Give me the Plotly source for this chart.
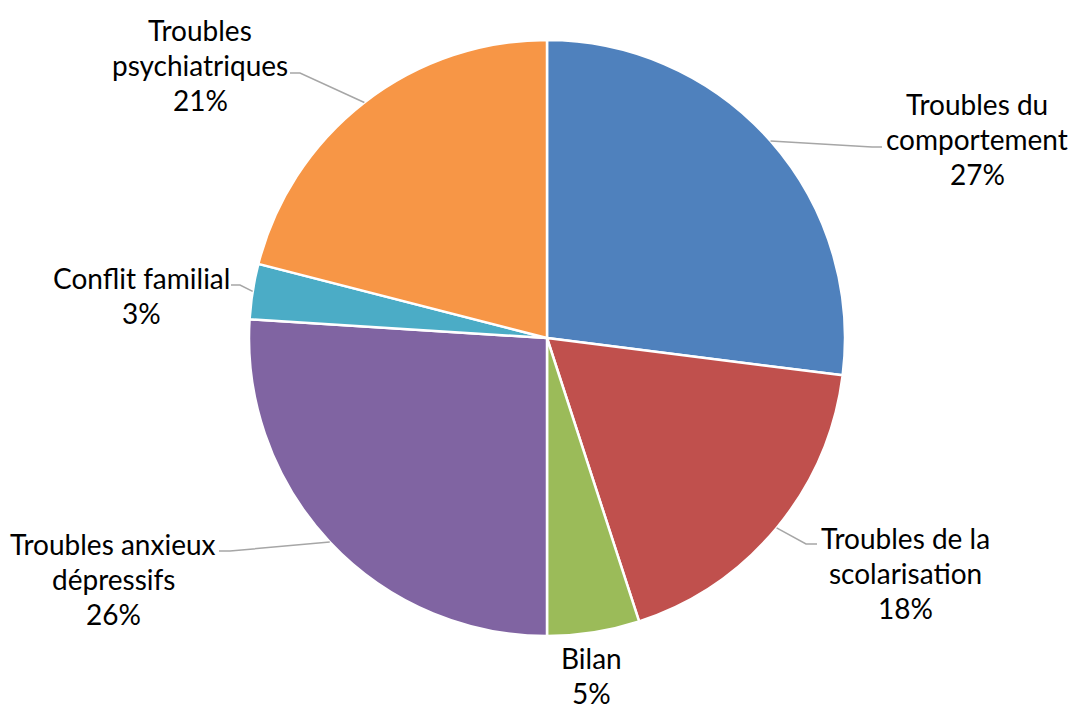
import math
import plotly.graph_objects as go

# ---- data ----
categories = ["Troubles du comportement", "Troubles de la scolarisation", "Bilan",
              "Troubles anxieux dépressifs", "Conflit familial", "Troubles psychiatriques"]
label_lines = [["Troubles du", "comportement"], ["Troubles de la", "scolarisation"], ["Bilan"],
               ["Troubles anxieux", "dépressifs"], ["Conflit familial"], ["Troubles", "psychiatriques"]]
values = [27, 18, 5, 26, 3, 21]
colors = ["#4F81BD", "#C0504D", "#9BBB59", "#8064A2", "#4BACC6", "#F79646"]

# ---- layout parameters (pixels) ----
W, H = 1072, 704
CX, CY, R = 547, 338, 298
FONT = "Lato"
FS = 28
LINE_H = 35
# label centre x, y of first line
label_pos = [(977, 104), (905, 538), (591, 658), (113, 544), (141, 278), (200, 30)]
# leader line: elbow point and end point (None = no leader)
leader = [((872, 147), (882, 147)), ((806, 544), (817, 544)), None,
          ((230, 551), (219, 551)), ((240, 285), (231, 285)), ((300, 73), (290, 73))]


def px(x):
    return x / W


def py(y):
    return 1 - y / H


fig = go.Figure(go.Pie(
    labels=categories, values=values, sort=False, direction="clockwise", rotation=0,
    marker=dict(colors=colors, line=dict(color="white", width=2.5)),
    textinfo="none", hoverinfo="label+percent", showlegend=False,
    domain=dict(x=[px(CX - R), px(CX + R)], y=[py(CY + R), py(CY - R)]),
))

total = sum(values)
annotations = []
shapes = []
cum = 0
for i, v in enumerate(values):
    mid = (cum + v / 2) / total * 2 * math.pi
    cum += v
    ex = CX + R * math.sin(mid)
    ey = CY - R * math.cos(mid)
    pct = f"{round(v / total * 100)}%"
    lines = label_lines[i] + [pct]
    lx, ly = label_pos[i]
    for k, t in enumerate(lines):
        annotations.append(dict(
            x=px(lx), y=py(ly + k * LINE_H), xref="paper", yref="paper",
            text=t, showarrow=False, xanchor="center", yanchor="middle",
            font=dict(family=FONT, size=FS, color="#000000"),
        ))
    if leader[i] is not None:
        (bx, by), (fx, fy) = leader[i]
        shapes.append(dict(
            type="path", xref="paper", yref="paper",
            path=f"M {px(ex)} {py(ey)} L {px(bx)} {py(by)} L {px(fx)} {py(fy)}",
            line=dict(color="#A6A6A6", width=1.5),
        ))

fig.update_layout(
    width=W, height=H, margin=dict(l=0, r=0, t=0, b=0),
    paper_bgcolor="white", plot_bgcolor="white",
    annotations=annotations, shapes=shapes,
)

fig.write_html("out.html")
